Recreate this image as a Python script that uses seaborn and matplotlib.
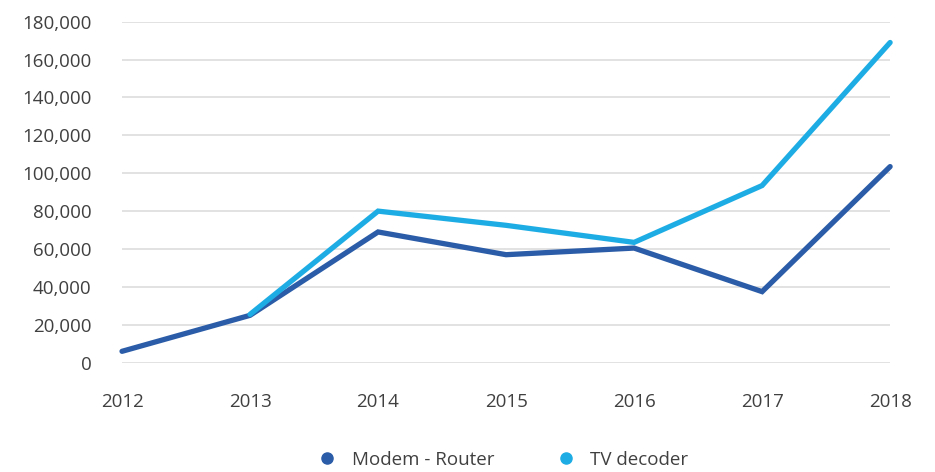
import numpy as np
import pandas as pd
import matplotlib
matplotlib.use("Agg")
import matplotlib.pyplot as plt
from matplotlib.lines import Line2D
from matplotlib.ticker import FuncFormatter
import seaborn as sns

years = [2012, 2013, 2014, 2015, 2016, 2017, 2018]
modem_router = [6000, 25000, 69000, 57000, 60500, 37500, 103500]
tv_decoder = [np.nan, 25500, 80000, 72500, 63500, 93500, 169000]
series_names = ["Modem - Router", "TV decoder"]
colors = ["#2A5CA7", "#1DADE4"]
y_ticks = [0, 20000, 40000, 60000, 80000, 100000, 120000, 140000, 160000, 180000]

df = pd.DataFrame({
    "year": years * 2,
    "value": modem_router + tv_decoder,
    "series": [series_names[0]] * len(years) + [series_names[1]] * len(years),
})

sns.set_theme(style="white")
plt.rcParams["font.family"] = ["Open Sans", "DejaVu Sans"]
text_color = "#404040"

fig = plt.figure(figsize=(9.35, 4.72), dpi=100)
ax = fig.add_axes([0.1305, 0.2316, 0.8215, 0.7225])

sns.lineplot(data=df.dropna(), x="year", y="value", hue="series",
             hue_order=series_names, palette=colors, linewidth=3.8,
             legend=False, ax=ax, sort=False)
for line in ax.lines:
    line.set_solid_capstyle("round")
    line.set_solid_joinstyle("miter")
    line.set_clip_on(False)

ax.set_xlim(years[0], years[-1])
ax.set_ylim(0, 180000)
ax.set_xticks(years)
ax.set_xticklabels([str(y) for y in years])
ax.set_yticks(y_ticks)
ax.yaxis.set_major_formatter(FuncFormatter(lambda v, p: f"{v:,.0f}"))
ax.grid(axis="y", color="#E2E2E2", linewidth=1.4)
ax.grid(axis="x", visible=False)
ax.set_axisbelow(True)
for s in ax.spines.values():
    s.set_visible(False)
ax.tick_params(axis="both", length=0, labelsize=13.5, colors=text_color)
ax.tick_params(axis="y", pad=22)
ax.tick_params(axis="x", pad=22)
ax.set_xlabel("")
ax.set_ylabel("")

handles = [Line2D([], [], marker="o", linestyle="", color=c, markersize=8)
           for c in colors]
ax.legend(handles, series_names, loc="center", bbox_to_anchor=(0.49, -0.285),
          ncol=2, frameon=False, fontsize=13.5, labelcolor=text_color,
          handletextpad=0.3, columnspacing=2.8)

fig.savefig("out.png", dpi=100)
